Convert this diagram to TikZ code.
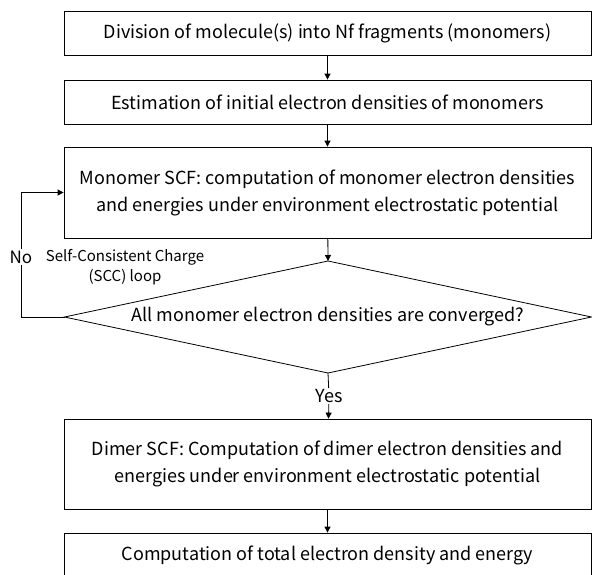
\documentclass[tikz,border=0pt]{standalone}
\usepackage{fontspec}
\setmainfont{Noto Sans CJK JP}
\usetikzlibrary{arrows.meta,positioning}
\tikzset{
  stepbox/.style={draw, rectangle, line width=0.8pt, minimum width=527pt,
                  align=center, font=\fontsize{18}{27}\selectfont},
  lbl/.style={inner sep=1pt, font=\fontsize{15}{20}\selectfont},
  arr/.style={-{Triangle[length=6pt,width=6pt]}, line width=0.8pt},
}
\begin{document}
\begin{tikzpicture}[x=1pt,y=-1pt]
  \clip (0,0) rectangle (592,574);

  \node[stepbox, minimum height=44pt] (div) at (327.5,33)
    {Division of molecule(s) into Nf fragments (monomers)};
  \node[stepbox, minimum height=44pt] (init) at (327.5,102)
    {Estimation of initial electron densities of monomers};
  \node[stepbox, minimum height=91pt] (mono) at (327.5,192.5)
    {Monomer SCF: computation of monomer electron densities\\
     and energies under environment electrostatic potential};
  \coordinate (conv-n) at (328,261);
  \coordinate (conv-w) at (64.5,317);
  \coordinate (conv-e) at (591.5,317);
  \coordinate (conv-s) at (328,373);
  \draw[line width=0.8pt] (conv-n) -- (conv-e) -- (conv-s) -- (conv-w) -- cycle;
  \node[font=\fontsize{18}{27}\selectfont] (conv) at (328,317)
    {All monomer electron densities are converged?};
  \node[lbl, font=\fontsize{18}{20}\selectfont] (yes) at (329,396) {Yes};
  \node[stepbox, minimum height=90pt] (dimer) at (327.5,464)
    {Dimer SCF: Computation of dimer electron densities and\\
     energies under environment electrostatic potential};
  \node[stepbox, minimum height=44pt] (total) at (327.5,555)
    {Computation of total electron density and energy};

  \node[lbl, font=\fontsize{17}{20}\selectfont] (no) at (21,257) {No};
  \node[lbl, align=center] (scc) at (125,267) {Self-Consistent Charge\\(SCC) loop};

  \draw[arr] (div) -- (init);
  \draw[arr] (init) -- (mono);
  \draw[arr] (mono) -- (conv-n);
  \draw[line width=0.8pt] (conv-s) -- (yes);
  \draw[arr] (yes) -- (dimer);
  \draw[arr] (dimer) -- (total);
  \draw[line width=0.8pt] (conv-w) -| (no);
  \draw[arr] (no) |- (mono.west);
\end{tikzpicture}
\end{document}
